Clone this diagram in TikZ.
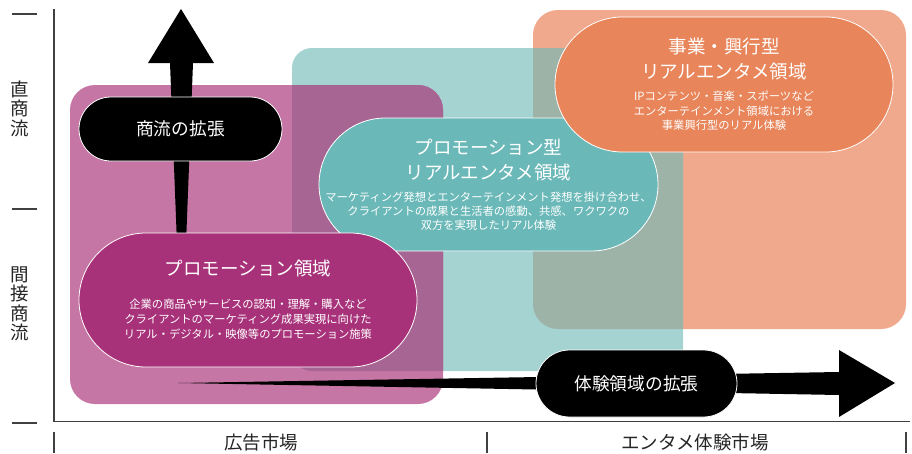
\documentclass[tikz,border=0pt]{standalone}
\usepackage{fontspec}
\setmainfont{Noto Sans CJK JP}
\definecolor{pinkL}{HTML}{C576A5}
\definecolor{purpOv}{HTML}{A76594}
\definecolor{magentaP}{HTML}{A8327A}
\definecolor{tealL}{HTML}{A4D3D2}
\definecolor{tealP}{HTML}{6BB8B8}
\definecolor{greyOv}{HTML}{9DB3A8}
\definecolor{orangeL}{HTML}{F0A98C}
\definecolor{orangeP}{HTML}{E8855A}
\definecolor{axisC}{HTML}{404040}
\definecolor{labelC}{HTML}{262626}
\tikzset{
  pill/.style={rectangle, rounded corners=#1, draw=white, line width=0.8pt,
    inner sep=0pt, align=center, text=white},
  axisline/.style={draw=axisC, line width=1.1pt},
  axislabel/.style={text=labelC, inner sep=0pt, align=center,
    font=\fontsize{18.5}{19.5}\selectfont},
}
\newcommand{\subfont}[1]{\fontsize{11.3}{#1}\selectfont}
\newcommand{\titlefont}{\fontsize{18.5}{25}\selectfont}
\begin{document}
\begin{tikzpicture}[x=1pt,y=-1pt]
\useasboundingbox (0,0) rectangle (912,453);

% background regions
\fill[orangeL, rounded corners=25] (533,10) rectangle (906,329);
\fill[tealL, rounded corners=20] (292,371) -- (292,48) -- (683,48) -- (683,371) -- cycle;
\begin{scope}
  \clip[rounded corners=20] (292,371) -- (292,48) -- (683,48) -- (683,371) -- cycle;
  \fill[greyOv, rounded corners=25] (533,10) rectangle (906,329);
\end{scope}
\fill[pinkL, rounded corners=25] (70,85) rectangle (443,404);
\begin{scope}
  \clip[rounded corners=25] (70,85) rectangle (443,404);
  \fill[purpOv, rounded corners=20] (292,371) -- (292,48) -- (683,48) -- (683,371) -- cycle;
\end{scope}

% axes
\coordinate (axtop) at (54,9);
\coordinate (axorig) at (54,421.5);
\coordinate (axright) at (910,421.5);
\draw[axisline] (axtop) -- (axorig) -- (axright);
\coordinate (t1a) at (12,14);  \coordinate (t1b) at (37,14);
\coordinate (t2a) at (12,209); \coordinate (t2b) at (37,209);
\coordinate (t3a) at (12,423); \coordinate (t3b) at (37,423);
\draw[axisline] (t1a) -- (t1b);
\draw[axisline] (t2a) -- (t2b);
\draw[axisline] (t3a) -- (t3b);
\coordinate (b1a) at (54,432);  \coordinate (b1b) at (54,453);
\coordinate (b2a) at (487,432); \coordinate (b2b) at (487,453);
\coordinate (b3a) at (906,432); \coordinate (b3b) at (906,453);
\draw[axisline] (b1a) -- (b1b);
\draw[axisline] (b2a) -- (b2b);
\draw[axisline] (b3a) -- (b3b);

\node[axislabel] (direct) at (20,108.5) {直\\商\\流};
\node[axislabel] (indirect) at (20,304) {間\\接\\商\\流};
\node[axislabel] (admarket) at (261,442.5) {広告市場};
\node[axislabel] (entmarket) at (695,442.5) {エンタメ体験市場};

% arrows
\coordinate (vorigin) at (181.5,360);
\coordinate (horigin) at (178,383);
\fill[black] (vorigin) -- (170,63) -- (148,63) -- (181,9) -- (214,63) -- (193,63) -- cycle;
\fill[black] (horigin) -- (839,372) -- (839,350) -- (895,383) -- (839,417) -- (839,395) -- cycle;

% pills
\node[pill=66.5, fill=tealP, minimum width=339pt, minimum height=133pt, text width=334pt] (tealpill) at (488.5,184.5)
 {\titlefont プロモーション型\\リアルエンタメ領域\\[7.8pt]
  \subfont{14}マーケティング発想とエンターテインメント発想を掛け合わせ、\\
  クライアントの成果と生活者の感動、共感、ワクワクの\\双方を実現したリアル体験\par};
\node[pill=67.5, fill=orangeP, minimum width=338pt, minimum height=135pt, text width=330pt] (orangepill) at (724,84.5)
 {\titlefont 事業・興行型\\リアルエンタメ領域\\[7.8pt]
  \subfont{14.5}IPコンテンツ・音楽・スポーツなど\\エンターテインメント領域における\\事業興行型のリアル体験\par};
\node[pill=67, fill=magentaP, minimum width=338pt, minimum height=134pt, text width=330pt] (promopill) at (248,300)
 {\vspace*{7pt}\titlefont プロモーション領域\\[10.8pt]
  \subfont{15}企業の商品やサービスの認知・理解・購入など\\クライアントのマーケティング成果実現に向けた\\リアル・デジタル・映像等のプロモーション施策\par};
\node[pill=32, fill=black, minimum width=203pt, minimum height=64pt, font=\fontsize{17.7}{20}\selectfont] (shoryu) at (180.5,129) {商流の拡張};
\node[pill=33.5, fill=black, minimum width=201pt, minimum height=67pt, font=\fontsize{17.7}{20}\selectfont] (taiken) at (636.5,383.5) {体験領域の拡張};
\end{tikzpicture}
\end{document}
